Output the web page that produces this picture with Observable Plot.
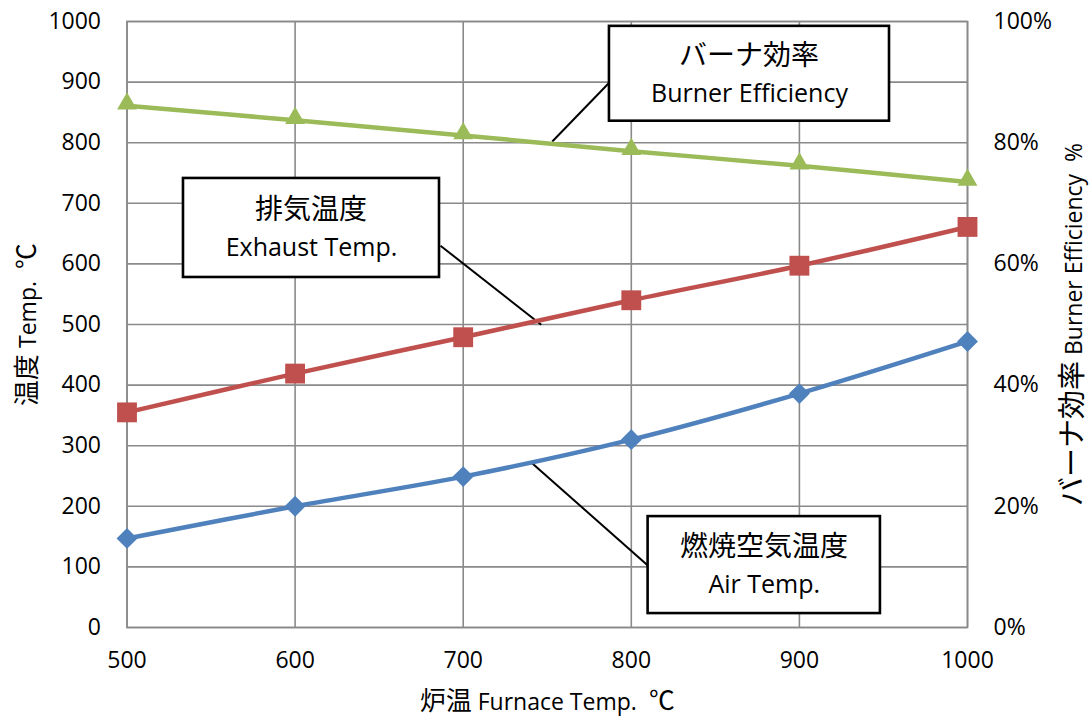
<!DOCTYPE html>
<html><head><meta charset="utf-8">
<script src="https://cdn.jsdelivr.net/npm/d3@7"></script>
<script src="https://cdn.jsdelivr.net/npm/@observablehq/plot@0.6"></script>
<style>
@font-face { font-family: "JPBig"; src: local("Noto Sans CJK JP"), local("NotoSansCJKjp-Regular"), local("Noto Sans CJK JP Regular");
  size-adjust: 112%; unicode-range: U+2103, U+3000-30FF, U+4E00-9FFF, U+FF00-FFEF; }
@font-face { font-family: "JPBigger"; src: local("Noto Sans CJK JP"), local("NotoSansCJKjp-Regular"), local("Noto Sans CJK JP Regular");
  size-adjust: 126%; unicode-range: U+2103, U+3000-30FF, U+4E00-9FFF, U+FF00-FFEF; }
html,body{margin:0;padding:0;background:#fff;}
#chart svg{display:block;}
</style>
</head><body><div id="chart"></div>
<script>
// --- data ---
const furnaceTemp = [500, 600, 700, 800, 900, 1000];
const airTemp     = [147, 200, 249, 310, 386, 472];
const exhaustTemp = [355, 419, 479, 540, 597, 661];
const burnerEff   = [86.1, 83.7, 81.2, 78.6, 76.2, 73.5]; // %
const leftTicks  = [0, 100, 200, 300, 400, 500, 600, 700, 800, 900, 1000];
const rightTicks = [0, 20, 40, 60, 80, 100];
const xTicks     = [500, 600, 700, 800, 900, 1000];

// callout boxes (data coords: x = furnace temp, y = temperature scale)
const callouts = [
  {jp: "バーナ効率",   en: "Burner Efficiency", x1: 787, x2: 953.6, y1: 835.5, y2: 992,
   lx1: 753, ly1: 802, lx2: 786.4, ly2: 897.7},
  {jp: "排気温度",     en: "Exhaust Temp.",     x1: 533.6, x2: 685.9, y1: 577.6, y2: 741,
   lx1: 686.5, ly1: 630, lx2: 746.4, ly2: 499.5},
  {jp: "燃焼空気温度", en: "Air Temp.",         x1: 810, x2: 948.2, y1: 23, y2: 183,
   lx1: 741, ly1: 271, lx2: 810, ly2: 102}
];

const effScale = 10; // 100% on right axis == 1000 on left axis
const air = furnaceTemp.map((x, i) => ({x, y: airTemp[i]}));
const exh = furnaceTemp.map((x, i) => ({x, y: exhaustTemp[i]}));
const eff = furnaceTemp.map((x, i) => ({x, y: burnerEff[i] * effScale}));

const grid = "#8a8a8a";
const cBlue = "#4F81BD", cRed = "#C0504D", cGreen = "#9BBB59";
const font = "JPBig,'Open Sans','Noto Sans CJK JP',sans-serif";
const fontR = "JPBigger,'Open Sans','Noto Sans CJK JP',sans-serif";
const nb = "\u00a0";

const chart = Plot.plot({
  width: 1091,
  height: 716,
  marginLeft: 126.5,
  marginRight: 124,
  marginTop: 21,
  marginBottom: 89,
  style: {fontFamily: font, fontSize: "23px", color: "black", background: "white", overflow: "visible"},
  x: {domain: [500, 1000]},
  y: {domain: [0, 1000]},
  marks: [
    Plot.gridX(xTicks, {stroke: grid, strokeOpacity: 1, strokeWidth: 1.6}),
    Plot.gridY(leftTicks, {stroke: grid, strokeOpacity: 1, strokeWidth: 1.6}),
    Plot.frame({stroke: grid, strokeWidth: 1.6}),
    Plot.axisX(xTicks, {tickSize: 0, tickPadding: 24, fontSize: 23, fill: "black", tickFormat: d => String(d),
      label: "炉温 Furnace Temp." + nb + nb + "℃", labelAnchor: "center", labelOffset: 82, labelArrow: "none"}),
    Plot.axisY(leftTicks, {anchor: "left", tickSize: 0, tickPadding: 26, fontSize: 23, fill: "black", tickFormat: d => String(d),
      label: "温度 Temp." + nb + nb + "℃", labelAnchor: "center", labelOffset: 107, labelArrow: "none"}),
    Plot.axisY(rightTicks.map(d => d * effScale), {anchor: "right", tickSize: 0, tickPadding: 26, fontSize: 23, fill: "black",
      fontFamily: fontR,
      tickFormat: d => (d / effScale) + "%",
      label: "バーナ効率 Burner Efficiency" + nb + nb + "%", labelAnchor: "center", labelOffset: 114, labelArrow: "none"}),
    // leader lines
    Plot.link(callouts, {x1: "lx1", y1: "ly1", x2: "lx2", y2: "ly2", stroke: "black", strokeWidth: 2}),
    // series
    Plot.line(air, {x: "x", y: "y", stroke: cBlue, strokeWidth: 4.5, curve: "catmull-rom"}),
    Plot.dot(air, {x: "x", y: "y", symbol: "diamond2", r: 9.4, fill: cBlue, stroke: "none"}),
    Plot.line(exh, {x: "x", y: "y", stroke: cRed, strokeWidth: 4.5, curve: "catmull-rom"}),
    Plot.dot(exh, {x: "x", y: "y", symbol: "square", r: 11.2, fill: cRed, stroke: "none"}),
    Plot.line(eff, {x: "x", y: "y", stroke: cGreen, strokeWidth: 4.5, curve: "catmull-rom"}),
    Plot.dot(eff, {x: "x", y: "y", symbol: "triangle2", r: 9.5, fill: cGreen, stroke: "none", dy: -2}),
    // callout boxes
    Plot.rect(callouts, {x1: "x1", x2: "x2", y1: "y1", y2: "y2", fill: "white", stroke: "black", strokeWidth: 2.6}),
    Plot.text(callouts, {x: d => (d.x1 + d.x2) / 2, y: d => (d.y1 + d.y2) / 2, text: "jp",
      dy: -17, fontSize: 25, fill: "black", lineAnchor: "middle"}),
    Plot.text(callouts, {x: d => (d.x1 + d.x2) / 2, y: d => (d.y1 + d.y2) / 2, text: "en",
      dy: 20, fontSize: 25, fill: "black", lineAnchor: "middle"})
  ]
});
document.getElementById("chart").appendChild(chart);
</script>
</body></html>
